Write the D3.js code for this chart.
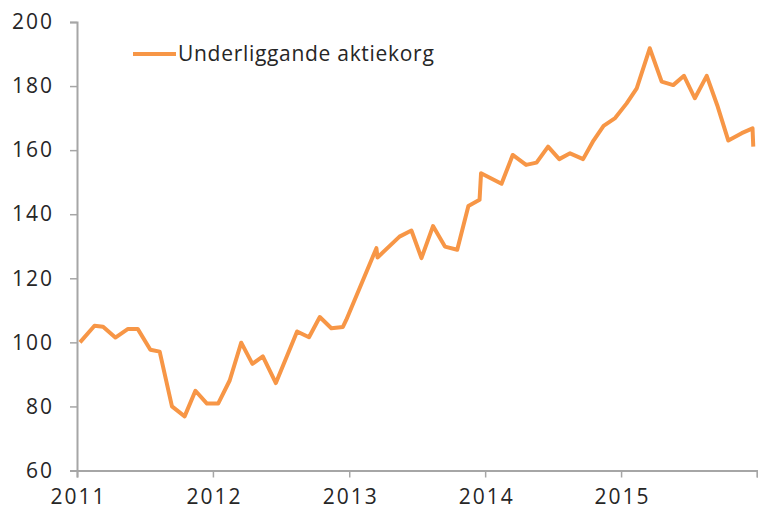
<!DOCTYPE html>
<html lang="sv">
<head>
    <meta charset="UTF-8" />
    <title>Underliggande aktiekorg</title>
    <script src="https://d3js.org/d3.v7.min.js"></script>
    <style>
        body { margin: 0; background: #fff; }
        text {
            font-family: "Open Sans", sans-serif;
            fill: #262626;
        }
    </style>
</head>
<body>
    <script>
        const dates = [
            "2011-01-09", "2011-02-17", "2011-03-12", "2011-04-14", "2011-05-18", "2011-06-13",
            "2011-07-17", "2011-08-11", "2011-09-13", "2011-10-17", "2011-11-15", "2011-12-16",
            "2012-01-15", "2012-02-15", "2012-03-17", "2012-04-16", "2012-05-14", "2012-06-18",
            "2012-08-14", "2012-09-15", "2012-10-14", "2012-11-14", "2012-12-15", "2012-12-24",
            "2013-03-15", "2013-03-18", "2013-05-16", "2013-06-17", "2013-07-14", "2013-08-14",
            "2013-09-15", "2013-10-18", "2013-11-17", "2013-12-17", "2013-12-21",
            "2014-02-14", "2014-03-16", "2014-04-21", "2014-05-19", "2014-06-19", "2014-07-19",
            "2014-08-17", "2014-09-21", "2014-10-19", "2014-11-15", "2014-12-16",
            "2015-01-16", "2015-02-12", "2015-03-19", "2015-04-20", "2015-05-21", "2015-06-19",
            "2015-07-18", "2015-08-19", "2015-09-16", "2015-10-16", "2015-11-21", "2015-12-20",
            "2015-12-22"
        ];

        // indexvärden
        const values = [
            100.0, 105.2, 104.9, 101.5, 104.2, 104.2,
            97.7, 97.1, 80.0, 76.9, 84.9, 80.9,
            80.9, 88.1, 99.9, 93.3, 95.6, 87.3,
            103.4, 101.6, 107.9, 104.4, 104.8, 107.0,
            129.4, 126.5, 133.0, 134.9, 126.3, 136.3,
            129.9, 128.9, 142.6, 144.5, 152.8,
            149.5, 158.5, 155.4, 156.1, 161.1, 157.2,
            159.0, 157.2, 163.0, 167.6, 170.0,
            174.6, 179.3, 191.8, 181.4, 180.3, 183.2,
            176.2, 183.2, 174.1, 163.0, 165.3, 166.8,
            161.1
        ];

        const seriesName = "Underliggande aktiekorg";
        const yTicks = [60, 80, 100, 120, 140, 160, 180, 200];
        const xTickYears = [2011, 2012, 2013, 2014, 2015, 2016];

        const width = 758;
        const height = 514;

        const parse = d3.timeParse("%Y-%m-%d");
        const data = dates.map((d, i) => ({ date: parse(d), value: values[i] }));

        const svg = d3.select("body")
            .append("svg")
            .attr("width", width)
            .attr("height", height);

        const x = d3.scaleTime()
            .domain([new Date(2011, 0, 1), new Date(2016, 0, 1)])
            .range([77, 757]);

        const y = d3.scaleLinear()
            .domain([60, 200])
            .range([470.5, 22]);

        // y-axel
        const yAxis = svg.append("g")
            .attr("transform", "translate(77,0)")
            .call(d3.axisLeft(y).tickValues(yTicks).tickSize(7).tickPadding(16));
        yAxis.select(".domain").attr("stroke", "#a6a6a6").attr("stroke-width", 2);
        yAxis.selectAll(".tick line").attr("stroke", "#a6a6a6").attr("stroke-width", 1.5);
        yAxis.selectAll("text")
            .style("font-size", "21px")
            .style("font-family", "Open Sans, sans-serif")
            .style("letter-spacing", "2px")
            .attr("fill", "#262626");

        // x-axel
        const xAxis = svg.append("g")
            .attr("transform", "translate(0,470.5)")
            .call(d3.axisBottom(x)
                .tickValues(xTickYears.map(yr => new Date(yr, 0, 1)))
                .tickFormat(d => d.getFullYear() === 2016 ? "" : d3.timeFormat("%Y")(d))
                .tickSize(7).tickPadding(12));
        xAxis.select(".domain").attr("stroke", "#a6a6a6").attr("stroke-width", 2);
        xAxis.selectAll(".tick line").attr("stroke", "#a6a6a6").attr("stroke-width", 1.5);
        xAxis.selectAll("text")
            .style("font-size", "21px")
            .style("font-family", "Open Sans, sans-serif")
            .style("letter-spacing", "2px")
            .attr("dx", 1)
            .attr("fill", "#262626");

        // linjen
        const line = d3.line()
            .x(d => x(d.date))
            .y(d => y(d.value));

        svg.append("path")
            .datum(data)
            .attr("fill", "none")
            .attr("stroke", "#f79646")
            .attr("stroke-width", 4)
            .attr("stroke-linejoin", "round")
            .attr("d", line);

        // legend
        const legend = svg.append("g").attr("transform", "translate(133,54)");
        legend.append("line")
            .attr("x1", 0).attr("x2", 43)
            .attr("stroke", "#f79646")
            .attr("stroke-width", 4);
        legend.append("text")
            .attr("x", 45)
            .attr("dy", "0.35em")
            .style("font-size", "21px")
            .style("letter-spacing", "0.7px")
            .text(seriesName);
    </script>
</body>
</html>
